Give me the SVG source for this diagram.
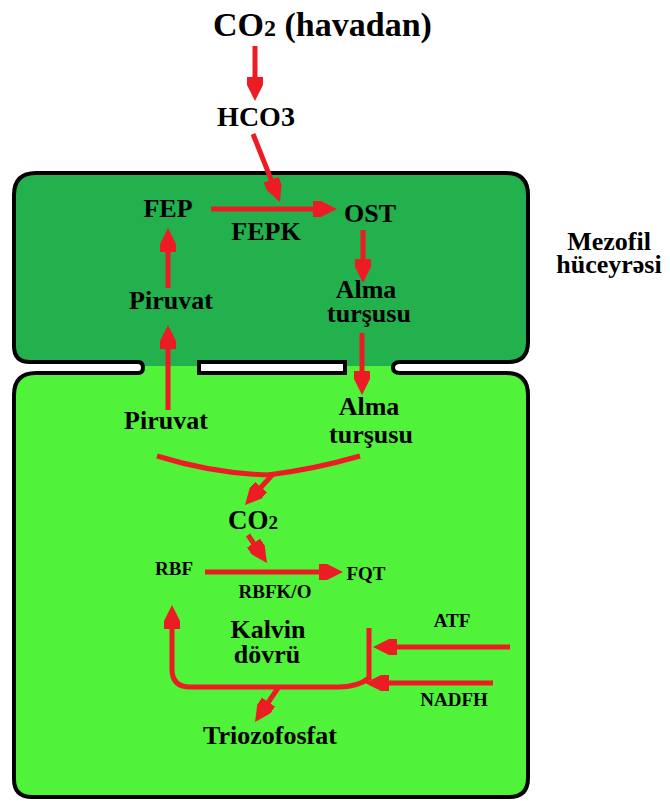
<svg xmlns="http://www.w3.org/2000/svg" width="670" height="804" viewBox="0 0 670 804">
<style>
  .t { font-family: "Liberation Serif", "Times New Roman", serif; font-weight: bold; fill: #000; text-anchor: middle; }
  .big { font-size: 26px; }
  .sm { font-size: 19px; }
  .arr { stroke: #ed1c24; stroke-width: 5; fill: none; marker-end: url(#ah); }
  .ln { stroke: #ed1c24; stroke-width: 5; fill: none; }
</style>
<defs>
  <marker id="ah" markerUnits="userSpaceOnUse" markerWidth="24" markerHeight="16" refX="14" refY="8" orient="auto" viewBox="0 0 24 16">
    <path d="M0,0 L8,0 L24,8 L8,16 L0,16 Z" fill="#ed1c24"/>
  </marker>
</defs>
<rect width="670" height="804" fill="#fff"/>

<g id="cells">
  <path id="cell-union-fill" d="M138,362 L30,362 Q14,362 14,346 L14,195 Q14,173 36,173 L506,173 Q528,173 528,195 L528,342 Q528,362 508,362 L400,362 Q393,362 393,367.5 Q393,373 400,373 L506,373 Q528,373 528,395 L528,778 Q528,797 509,797 L32,797 Q14,797 14,779 L14,395 Q14,373 36,373 L138,373 Q143,373 143,367.5 Q143,362 138,362 Z" fill="#50f23a"/>
  <path id="mesophyll-fill" d="M14,195 Q14,173 36,173 L506,173 Q528,173 528,195 L528,342 Q528,362 508,362 L30,362 Q14,362 14,346 Z" fill="#22b14c"/>
  <rect x="141" y="355" width="254" height="11" fill="#22b14c"/>
  <rect x="199" y="362" width="146" height="11" fill="#fff" stroke="#000" stroke-width="4"/>
  <path id="cell-outline" d="M138,362 L30,362 Q14,362 14,346 L14,195 Q14,173 36,173 L506,173 Q528,173 528,195 L528,342 Q528,362 508,362 L400,362 Q393,362 393,367.5 Q393,373 400,373 L506,373 Q528,373 528,395 L528,778 Q528,797 509,797 L32,797 Q14,797 14,779 L14,395 Q14,373 36,373 L138,373 Q143,373 143,367.5 Q143,362 138,362 Z" fill="none" stroke="#000" stroke-width="4"/>
</g>

<g id="connectors">
  <line class="arr" x1="255" y1="46" x2="255" y2="91"/>
  <line class="arr" x1="253" y1="134" x2="276.3" y2="192.7"/>
  <line class="arr" x1="211" y1="209" x2="327" y2="209"/>
  <line class="arr" x1="363" y1="230" x2="363" y2="273"/>
  <line class="arr" x1="168" y1="288" x2="168" y2="238"/>
  <line class="arr" x1="168" y1="410" x2="168" y2="335"/>
  <line class="arr" x1="362" y1="333" x2="362" y2="385"/>
  <path class="ln" d="M157,456 Q215,474 272,475"/>
  <path class="ln" d="M360,456 Q315,469 268,475"/>
  <line class="arr" x1="273" y1="474" x2="251.7" y2="497.6"/>
  <line class="arr" x1="248" y1="535" x2="261.4" y2="554.7"/>
  <line class="arr" x1="205" y1="572" x2="333" y2="572"/>
  <path class="arr" d="M369,678 Q358,687 338,687 L190,687 Q172,687 172,669 L172,615"/>
  <line class="ln" x1="369" y1="628" x2="369" y2="680"/>
  <line class="arr" x1="510" y1="647" x2="383" y2="647"/>
  <line class="arr" x1="493" y1="683" x2="375" y2="683"/>
  <line class="arr" x1="278" y1="688" x2="260.6" y2="713.7"/>
</g>

<g id="n-co2-air"><text class="t" x="213" y="36" style="font-size:34px;text-anchor:start">CO<tspan style="font-size:24px">2</tspan> (havadan)</text></g>
<g id="n-hco3"><text class="t" x="256" y="126" style="font-size:28px">HCO3</text></g>
<g id="n-fep"><text class="t big" x="168" y="217">FEP</text></g>
<g id="n-fepk"><text class="t big" x="266" y="240">FEPK</text></g>
<g id="n-ost"><text class="t big" x="370" y="222">OST</text></g>
<g id="n-alma-top"><text class="t big" x="366" y="298">Alma</text><text class="t big" x="369" y="322">turşusu</text></g>
<g id="n-piruvat-top"><text class="t big" x="171" y="309">Piruvat</text></g>
<g id="n-mezofil"><text class="t big" x="609" y="250">Mezofil</text><text class="t big" x="609" y="273">hüceyrəsi</text></g>
<g id="n-piruvat-bottom"><text class="t big" x="166" y="429">Piruvat</text></g>
<g id="n-alma-bottom"><text class="t big" x="369" y="415">Alma</text><text class="t big" x="371" y="443">turşusu</text></g>
<g id="n-co2"><text class="t" x="228" y="529" style="font-size:27px;text-anchor:start">CO<tspan style="font-size:19px">2</tspan></text></g>
<g id="n-rbf"><text class="t sm" x="174" y="575">RBF</text></g>
<g id="n-fqt"><text class="t sm" x="366" y="580">FQT</text></g>
<g id="n-rbfko"><text class="t sm" x="275" y="598">RBFK/O</text></g>
<g id="n-kalvin"><text class="t big" x="268" y="638">Kalvin</text><text class="t big" x="267" y="663">dövrü</text></g>
<g id="n-atf"><text class="t sm" x="452" y="627">ATF</text></g>
<g id="n-nadfh"><text class="t sm" x="454" y="706">NADFH</text></g>
<g id="n-triozofosfat"><text class="t big" x="270" y="744">Triozofosfat</text></g>
</svg>
